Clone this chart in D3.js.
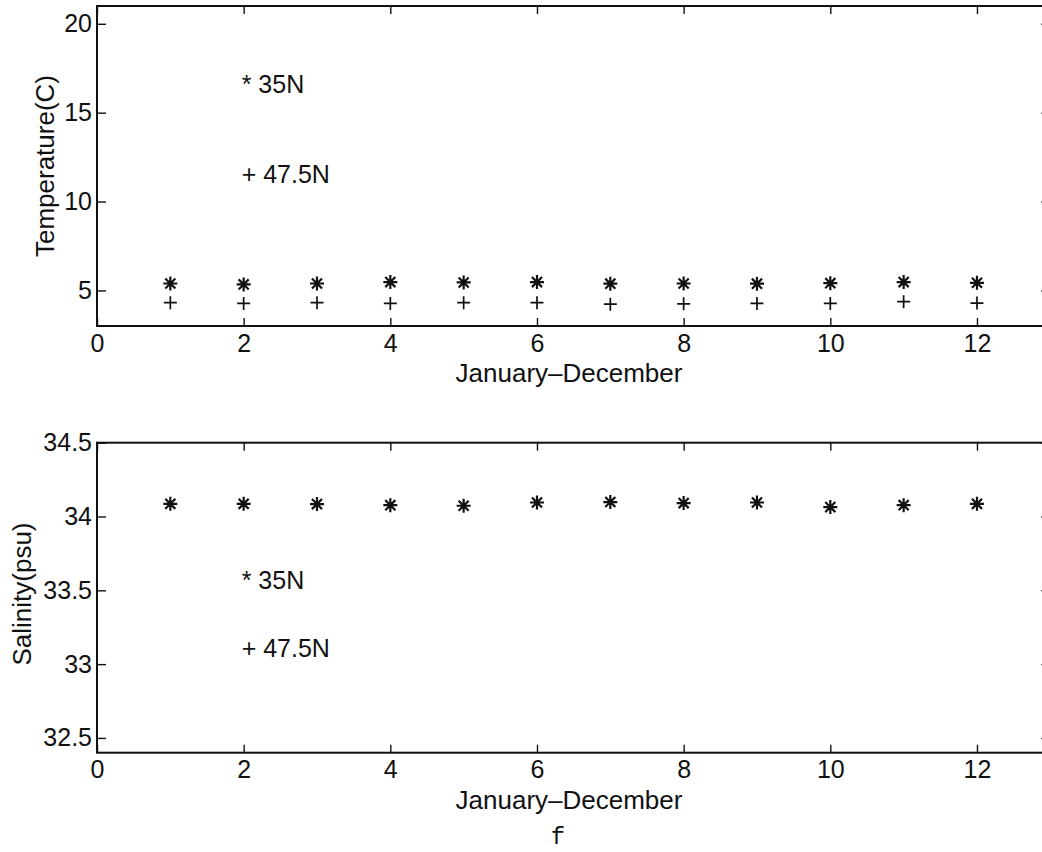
<!DOCTYPE html>
<html>
<head>
<meta charset="utf-8">
<script src="https://cdn.jsdelivr.net/npm/d3@7"></script>
<style>
  html, body { margin: 0; padding: 0; background: #fff; }
  svg { display: block; }
  text { font-family: "Liberation Sans", Arial, Helvetica, sans-serif; fill: #111; }
</style>
</head>
<body>
<svg id="chart" width="1042" height="852"></svg>
<script>
// ---- data ----
const months = [1, 2, 3, 4, 5, 6, 7, 8, 9, 10, 11, 12];
const temp35N = [5.39, 5.34, 5.39, 5.47, 5.45, 5.47, 5.38, 5.39, 5.38, 5.41, 5.47, 5.43];
const temp475N = [4.31, 4.27, 4.31, 4.27, 4.31, 4.31, 4.23, 4.25, 4.27, 4.27, 4.37, 4.29];
const sal35N = [34.086, 34.086, 34.084, 34.077, 34.073, 34.095, 34.098, 34.091, 34.095, 34.064, 34.077, 34.086];
const xTicks = [0, 2, 4, 6, 8, 10, 12];
const tempTicks = [5, 10, 15, 20];
const salTicks = [32.5, 33, 33.5, 34, 34.5];
const xLabel = "January\u2013December";
const tempLabel = "Temperature(C)";
const salLabel = "Salinity(psu)";
const tempLegend = [{ t: "* 35N", v: 16.6 }, { t: "+ 47.5N", v: 11.55 }];
const salLegend = [{ t: "* 35N", v: 33.57 }, { t: "+ 47.5N", v: 33.11 }];

const svg = d3.select("#chart");
const FS = 25, LFS = 26;
const x = d3.scaleLinear().domain([0, 13]).range([97, 1050.3]);

function asterisk(g, cx, cy) {
  const r = 7, d = r * 0.72;
  const p = `M${cx - r},${cy}L${cx + r},${cy}M${cx},${cy - r}L${cx},${cy + r}` +
            `M${cx - d},${cy - d}L${cx + d},${cy + d}M${cx - d},${cy + d}L${cx + d},${cy - d}`;
  g.append("path").attr("d", p).attr("stroke", "#111").attr("stroke-width", 2.2).attr("fill", "none");
}
function plus(g, cx, cy) {
  const r = 6.5;
  g.append("path").attr("d", `M${cx - r},${cy}L${cx + r},${cy}M${cx},${cy - r}L${cx},${cy + r}`)
    .attr("stroke", "#111").attr("stroke-width", 1.7).attr("fill", "none");
}

function panel(cfg) {
  const y = d3.scaleLinear().domain(cfg.domain).range([cfg.bottom, cfg.top]);
  const g = svg.append("g");
  const fmt = d => String(d);

  // axes with inward ticks
  const bx = g.append("g").attr("transform", `translate(0,${cfg.bottom})`)
    .call(d3.axisBottom(x).tickValues(xTicks).tickSizeInner(-8).tickSizeOuter(0).tickPadding(8).tickFormat(fmt));
  const tx = g.append("g").attr("transform", `translate(0,${cfg.top})`)
    .call(d3.axisTop(x).tickValues(xTicks).tickSizeInner(-8).tickSizeOuter(0).tickFormat(""));
  const ly = g.append("g").attr("transform", `translate(${x(0)},0)`)
    .call(d3.axisLeft(y).tickValues(cfg.ticks).tickSizeInner(-9).tickSizeOuter(0).tickPadding(5).tickFormat(fmt));
  const ry = g.append("g").attr("transform", `translate(${x(13)},0)`)
    .call(d3.axisRight(y).tickValues(cfg.ticks).tickSizeInner(-9).tickSizeOuter(0).tickFormat(""));
  [bx, tx, ly, ry].forEach(a => {
    a.select(".domain").remove();
    a.selectAll(".tick line").attr("stroke", "#111").attr("stroke-width", 1.4);
    a.selectAll(".tick text").style("font-size", FS + "px").style("font-family", "Liberation Sans, Arial, sans-serif").attr("fill", "#111");
  });

  // frame
  g.append("rect").attr("x", x(0)).attr("y", cfg.top)
    .attr("width", x(13) - x(0)).attr("height", cfg.bottom - cfg.top)
    .attr("fill", "none").attr("stroke", "#111").attr("stroke-width", 2);

  // series
  cfg.series.forEach(s => {
    months.forEach((m, i) => s.marker(g, x(m), y(s.values[i])));
  });

  // in-plot legend text
  cfg.legend.forEach(l => {
    g.append("text").attr("x", x(2) - 2).attr("y", y(l.v)).attr("dy", "0.35em")
      .style("font-size", FS + "px").text(l.t);
  });

  // labels
  g.append("text").attr("x", 569).attr("y", cfg.xlabelY).attr("text-anchor", "middle")
    .style("font-size", LFS + "px").text(xLabel);
  g.append("text").attr("transform", `translate(${cfg.ylabelX},${cfg.ylabelC}) rotate(-90)`)
    .attr("text-anchor", "middle").style("font-size", LFS + "px").text(cfg.ylabel);
}

panel({
  domain: [3, 21], top: 6, bottom: 326, ticks: tempTicks, ylabel: tempLabel,
  ylabelX: 54, ylabelC: 166, xlabelY: 382, legend: tempLegend,
  series: [{ values: temp35N, marker: asterisk }, { values: temp475N, marker: plus }]
});
panel({
  domain: [32.4, 34.5], top: 442.7, bottom: 752.7, ticks: salTicks, ylabel: salLabel,
  ylabelX: 31, ylabelC: 594, xlabelY: 809, legend: salLegend,
  series: [{ values: sal35N, marker: asterisk }]
});

svg.append("text").attr("x", 558).attr("y", 844).attr("text-anchor", "middle")
  .style("font-family", "Liberation Mono, Courier New, monospace").style("font-size", "24px").text("f");
</script>
</body>
</html>
